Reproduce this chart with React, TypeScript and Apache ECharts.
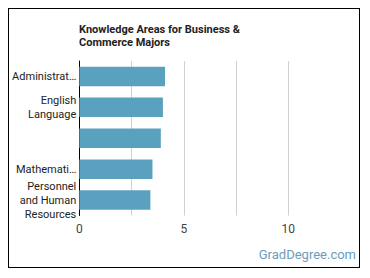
import React, { useEffect, useRef } from "react";
import * as echarts from "echarts";

const categories = [
  "Administrat…",
  "English\nLanguage",
  "",
  "Mathemati…",
  "Personnel\nand Human\nResources",
];
const values = [4.1, 4.0, 3.9, 3.5, 3.4];
const xTicks = [0, 5, 10];

export default function App() {
  const ref = useRef<HTMLDivElement>(null);
  useEffect(() => {
    if (!ref.current) return;
    const chart = echarts.init(ref.current, null, { renderer: "svg" });
    chart.setOption({
      animation: false,
      title: {
        text: "Knowledge Areas for Business &\nCommerce Majors",
        left: 70,
        top: 13.5,
        padding: 0,
        textStyle: {
          fontFamily: "Roboto",
          fontSize: 11,
          fontWeight: "bold",
          color: "#222",
          lineHeight: 13.5,
        },
      },
      grid: {
        left: 70.3,
        right: 18.4,
        top: 52,
        bottom: 51.5,
        containLabel: false,
        outerBoundsMode: "none",
      },
      xAxis: {
        type: "value",
        min: 0,
        max: 12.5,
        interval: 2.5,
        axisLine: { show: false },
        axisTick: { show: false },
        splitLine: { show: true, showMaxLine: false, lineStyle: { color: "#d0d0d0", width: 1 } },
        axisLabel: {
          color: "#444",
          fontFamily: "Roboto",
          fontSize: 12,
          margin: 7,
          showMaxLabel: false,
          formatter: (v: number) => (xTicks.includes(v) ? String(v) : ""),
        },
      },
      yAxis: {
        type: "category",
        data: categories,
        inverse: true,
        axisLine: { show: true, lineStyle: { color: "#000", width: 1 } },
        axisTick: { show: false },
        axisLabel: {
          color: "#222",
          fontFamily: "Roboto",
          fontSize: 11,
          lineHeight: 14,
          margin: 3,
          align: "right",
        },
      },
      series: [
        {
          type: "bar",
          data: values,
          barCategoryGap: "37%",
          itemStyle: { color: "#5aa1bf" },
        },
      ],
      graphic: [
        {
          type: "text",
          right: 3,
          top: 239,
          style: {
            text: "GradDegree.com",
            fill: "#6a9dbd",
            font: "13px Roboto",
          },
        },
      ],
    });
    return () => chart.dispose();
  }, []);
  return (
    <div style={{ width: 350, height: 258, border: "1px solid #000" }}>
      <div ref={ref} style={{ width: 350, height: 258 }} />
    </div>
  );
}
